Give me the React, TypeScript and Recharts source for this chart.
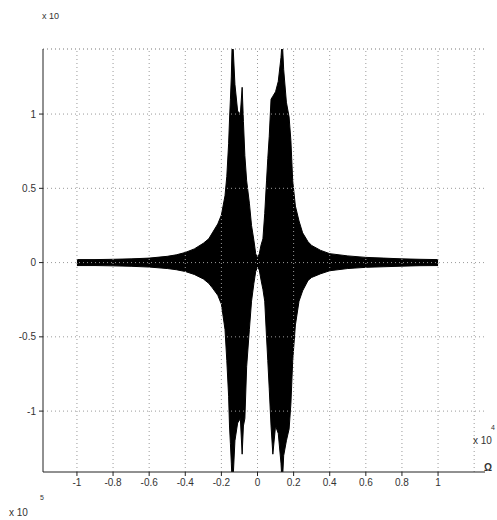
import React from 'react';
import {
  ComposedChart,
  Area,
  XAxis,
  YAxis,
  ReferenceLine,
} from 'recharts';

// envelope of the dense trace
const xs = [
  -1.0, -0.9, -0.8, -0.7, -0.6, -0.5, -0.45, -0.4, -0.35, -0.3, -0.27, -0.25, -0.22, -0.2,
  -0.18, -0.17, -0.16, -0.155, -0.15, -0.145, -0.14, -0.135, -0.125, -0.11, -0.095, -0.085,
  -0.078, -0.07, -0.06, -0.045, -0.033, -0.02, -0.01, 0, 0.01, 0.02, 0.03, 0.04, 0.05, 0.057,
  0.065, 0.075, 0.085, 0.1, 0.115, 0.13, 0.137, 0.145, 0.16, 0.175, 0.185, 0.195, 0.21, 0.23,
  0.25, 0.28, 0.3, 0.35, 0.4, 0.5, 0.6, 0.7, 0.8, 0.9, 1.0,
];
const upper = [
  0.02, 0.02, 0.022, 0.025, 0.03, 0.042, 0.052, 0.068, 0.092, 0.13, 0.16, 0.2, 0.26, 0.32,
  0.45, 0.58, 0.8, 0.96, 1.1, 1.25, 1.5, 1.45, 1.2, 1.02, 1.0, 1.18,
  0.95, 0.72, 0.55, 0.4, 0.25, 0.15, 0.06, 0.03, 0.06, 0.12, 0.16, 0.33, 0.55, 0.7,
  0.85, 1.1, 1.12, 1.15, 1.22, 1.38, 1.5, 1.3, 1.08, 0.98, 0.82, 0.55, 0.38, 0.28,
  0.2, 0.14, 0.115, 0.082, 0.06, 0.045, 0.035, 0.03, 0.025, 0.022, 0.02,
];
const lower = [
  -0.02, -0.02, -0.022, -0.025, -0.03, -0.04, -0.048, -0.06, -0.08, -0.11, -0.14, -0.17, -0.22, -0.28,
  -0.45, -0.66, -0.9, -1.1, -1.22, -1.35, -1.5, -1.45, -1.2, -1.08, -1.05, -1.29,
  -1.1, -1.05, -0.7, -0.45, -0.26, -0.14, -0.06, -0.03, -0.05, -0.12, -0.18, -0.26, -0.5, -0.66,
  -0.85, -1.1, -1.29, -1.1, -1.15, -1.35, -1.5, -1.3, -1.2, -1.12, -0.95, -0.66, -0.42, -0.26,
  -0.19, -0.12, -0.1, -0.075, -0.055, -0.04, -0.032, -0.028, -0.024, -0.021, -0.02,
];

const xTicks = [-1, -0.8, -0.6, -0.4, -0.2, 0, 0.2, 0.4, 0.6, 0.8, 1];
const xGrid = [...xTicks, 1.2];
const yTicks = [-1, -0.5, 0, 0.5, 1];

const data = xs.map((x, i) => ({ x, band: [lower[i], upper[i]] }));

const tickStyle = { fontSize: 10, fill: '#333', fontFamily: 'Liberation Sans, Arial, sans-serif' };
const gridColor = '#9a9a9a';

export default function App() {
  const label: React.CSSProperties = {
    position: 'absolute',
    fontFamily: 'Liberation Sans, Arial, sans-serif',
    fontSize: 10,
    color: '#333',
    lineHeight: 1,
  };
  return (
    <div style={{ position: 'absolute', left: 0, top: 0, width: 497, height: 520, background: '#fff' }}>
      <ComposedChart
        width={497}
        height={520}
        data={data}
        margin={{ top: 49, right: 12, left: 0, bottom: 0 }}
      >
        <XAxis
          type="number"
          dataKey="x"
          domain={[-1.188, 1.26]}
          ticks={xTicks}
          allowDataOverflow
          height={48}
          tick={tickStyle}
          tickSize={4}
          tickMargin={3}
          stroke="#222"
          tickFormatter={(v: number) => String(v)}
        />
        <YAxis
          type="number"
          domain={[-1.41, 1.438]}
          ticks={yTicks}
          allowDataOverflow
          width={43}
          tick={tickStyle}
          tickSize={4}
          tickMargin={3}
          stroke="#222"
        />
        {xGrid.map((v) => (
          <ReferenceLine key={'gx' + v} x={v} stroke={gridColor} strokeDasharray="1 3" />
        ))}
        {yTicks.map((v) => (
          <ReferenceLine key={'gy' + v} y={v} stroke={gridColor} strokeDasharray="1 3" />
        ))}
        <ReferenceLine y={1.438} stroke="#777" strokeDasharray="1 3" />
        <Area
          type="linear"
          dataKey="band"
          stroke="#000"
          strokeWidth={1}
          fill="#000"
          fillOpacity={1}
          dot={false}
          activeDot={false}
          isAnimationActive={false}
        />
      </ComposedChart>
      <span style={{ ...label, left: 42, top: 12, fontSize: 9 }}>x 10</span>
      <span style={{ ...label, left: 473, top: 436 }}>x 10</span>
      <span style={{ ...label, left: 491, top: 424, fontSize: 7 }}>4</span>
      <span style={{ ...label, left: 484, top: 463, fontWeight: 'bold' }}>Ω</span>
      <span style={{ ...label, left: 40, top: 494, fontSize: 7 }}>5</span>
      <span style={{ ...label, left: 9, top: 508 }}>x 10</span>
    </div>
  );
}
